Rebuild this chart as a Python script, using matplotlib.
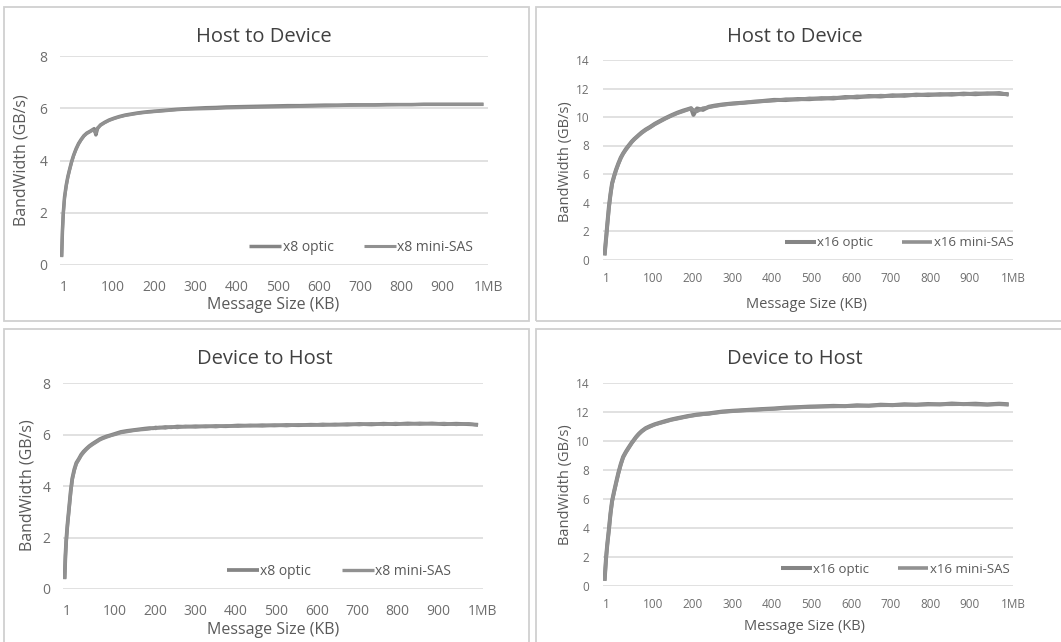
import matplotlib.pyplot as plt
from matplotlib.patches import Rectangle

kb = [1, 3, 5, 8, 12, 16, 20, 25, 30, 36,
      42, 48, 55, 62, 70, 76, 80, 84, 88, 95,
      105, 116, 128, 140, 155, 170, 185, 200, 212, 220,
      226, 235, 250, 265, 280, 300, 325, 350, 375, 400,
      430, 460, 490, 520, 550, 580, 610, 640, 670, 700,
      730, 760, 790, 820, 850, 880, 910, 940, 970, 1000,
      1024]

# Host to Device, x8
h2d_x8_optic = [0.32, 1.35, 2.00, 2.60, 3.05, 3.38, 3.64, 3.95, 4.20, 4.45,
                4.65, 4.80, 4.95, 5.05, 5.12, 5.18, 5.22, 4.98, 5.22, 5.36,
                5.46, 5.55, 5.62, 5.68, 5.74, 5.78, 5.82, 5.85, 5.87, 5.88,
                5.89, 5.90, 5.92, 5.94, 5.96, 5.98, 6.00, 6.02, 6.03, 6.05,
                6.06, 6.07, 6.08, 6.09, 6.10, 6.10, 6.11, 6.12, 6.12, 6.13,
                6.13, 6.13, 6.14, 6.14, 6.14, 6.15, 6.15, 6.15, 6.15, 6.15,
                6.15]
h2d_x8_sas = [0.30, 1.30, 1.95, 2.55, 3.00, 3.35, 3.62, 3.92, 4.18, 4.42,
              4.62, 4.78, 4.93, 5.03, 5.10, 5.16, 5.12, 5.05, 5.25, 5.34,
              5.44, 5.53, 5.60, 5.66, 5.72, 5.76, 5.80, 5.83, 5.85, 5.86,
              5.87, 5.88, 5.90, 5.92, 5.94, 5.96, 5.97, 5.98, 5.99, 6.01,
              6.02, 6.03, 6.04, 6.05, 6.06, 6.07, 6.08, 6.09, 6.10, 6.11,
              6.12, 6.12, 6.13, 6.14, 6.14, 6.15, 6.15, 6.15, 6.15, 6.15,
              6.15]

# Host to Device, x16
h2d_x16_optic = [0.30, 0.95, 1.55, 2.50, 3.70, 4.60, 5.35, 5.85, 6.30, 6.75,
                 7.15, 7.45, 7.75, 8.00, 8.28, 8.45, 8.55, 8.65, 8.75, 8.92,
                 9.12, 9.30, 9.52, 9.70, 9.92, 10.12, 10.30, 10.45, 10.55, 10.62,
                 10.15, 10.60, 10.50, 10.72, 10.80, 10.88, 10.95, 11.00, 11.05, 11.12,
                 11.20, 11.19, 11.26, 11.25, 11.32, 11.30, 11.40, 11.38, 11.47, 11.44,
                 11.52, 11.49, 11.57, 11.54, 11.60, 11.57, 11.64, 11.60, 11.66, 11.63,
                 11.60]
h2d_x16_sas = [0.28, 0.90, 1.50, 2.45, 3.62, 4.55, 5.30, 5.80, 6.25, 6.70,
               7.10, 7.42, 7.70, 7.96, 8.24, 8.42, 8.52, 8.62, 8.72, 8.88,
               9.08, 9.26, 9.48, 9.66, 9.88, 10.08, 10.26, 10.40, 10.52, 10.58,
               10.50, 10.40, 10.62, 10.68, 10.76, 10.85, 10.93, 10.98, 11.08, 11.10,
               11.15, 11.25, 11.22, 11.31, 11.27, 11.36, 11.34, 11.45, 11.42, 11.50,
               11.46, 11.55, 11.52, 11.60, 11.55, 11.63, 11.58, 11.67, 11.62, 11.70,
               11.55]

# Device to Host, x8
d2h_x8_optic = [0.40, 1.30, 1.90, 2.50, 3.15, 3.80, 4.30, 4.65, 4.90, 5.05,
                5.22, 5.34, 5.45, 5.55, 5.64, 5.70, 5.74, 5.78, 5.82, 5.87,
                5.93, 5.98, 6.04, 6.10, 6.14, 6.17, 6.20, 6.23, 6.25, 6.24,
                6.27, 6.26, 6.29, 6.28, 6.31, 6.30, 6.32, 6.31, 6.33, 6.32,
                6.35, 6.34, 6.36, 6.35, 6.37, 6.36, 6.38, 6.37, 6.39, 6.38,
                6.41, 6.39, 6.42, 6.40, 6.43, 6.41, 6.43, 6.40, 6.42, 6.40,
                6.38]
d2h_x8_sas = [0.38, 1.25, 1.85, 2.45, 3.10, 3.75, 4.25, 4.60, 4.86, 5.02,
              5.18, 5.30, 5.42, 5.52, 5.61, 5.67, 5.71, 5.75, 5.79, 5.84,
              5.90, 5.96, 6.01, 6.07, 6.11, 6.15, 6.18, 6.20, 6.22, 6.26,
              6.23, 6.28, 6.25, 6.30, 6.27, 6.32, 6.29, 6.33, 6.30, 6.34,
              6.32, 6.36, 6.33, 6.37, 6.34, 6.38, 6.36, 6.40, 6.37, 6.41,
              6.38, 6.42, 6.39, 6.43, 6.40, 6.44, 6.41, 6.43, 6.39, 6.42,
              6.36]

# Device to Host, x16
d2h_x16_optic = [0.35, 1.20, 2.00, 2.90, 3.90, 5.00, 5.85, 6.50, 7.10, 7.80,
                 8.40, 8.90, 9.25, 9.55, 9.88, 10.10, 10.25, 10.38, 10.50, 10.68,
                 10.88, 11.02, 11.15, 11.25, 11.37, 11.48, 11.57, 11.65, 11.72, 11.75,
                 11.78, 11.82, 11.86, 11.90, 11.96, 12.03, 12.08, 12.12, 12.16, 12.20,
                 12.24, 12.30, 12.33, 12.37, 12.39, 12.42, 12.40, 12.46, 12.43, 12.50,
                 12.47, 12.53, 12.50, 12.55, 12.52, 12.58, 12.54, 12.57, 12.52, 12.57,
                 12.53]
d2h_x16_sas = [0.33, 1.15, 1.95, 2.85, 3.85, 4.95, 5.80, 6.45, 7.05, 7.75,
               8.35, 8.85, 9.20, 9.50, 9.84, 10.06, 10.22, 10.34, 10.46, 10.64,
               10.84, 10.98, 11.12, 11.22, 11.33, 11.45, 11.53, 11.62, 11.68, 11.73,
               11.75, 11.79, 11.84, 11.87, 11.93, 12.00, 12.05, 12.10, 12.13, 12.17,
               12.21, 12.27, 12.31, 12.34, 12.37, 12.38, 12.40, 12.42, 12.44, 12.46,
               12.47, 12.49, 12.50, 12.51, 12.53, 12.53, 12.54, 12.51, 12.50, 12.53,
               12.50]

xtick_labels = ["1", "100", "200", "300", "400", "500", "600", "700", "800", "900", "1MB"]
xtick_at = [6, 125, 225, 325, 425, 525, 625, 725, 825, 925, 1035]

plt.rcParams['font.family'] = ['Open Sans', 'DejaVu Sans']

W, H = 1061, 642
fig = plt.figure(figsize=(W / 100, H / 100), dpi=100)
fig.patch.set_facecolor('white')

LINE = '#858585'
LINE2 = '#919191'
GRID = '#d9d9d9'


def fx(x):
    return x / W


def fy(y):
    return 1 - y / H


def panel(box, axbox, title, ymax, optic, sas, names, txt, fs):
    # box: panel border (x0, y0, x1, y1) px ; axbox: plot area (x0, y0, x1, y1) px
    x0, y0, x1, y1 = box
    fig.add_artist(Rectangle((fx(x0), fy(y1)), (x1 - x0) / W, (y1 - y0) / H,
                             transform=fig.transFigure, fill=False,
                             ec='#d0d0d0', lw=1.3))
    a0, b0, a1, b1 = axbox
    ax = fig.add_axes([fx(a0), fy(b1), (a1 - a0) / W, (b1 - b0) / H])
    l1, = ax.plot(kb, optic, color=LINE, lw=fs['lw'], solid_capstyle='butt')
    l2, = ax.plot(kb, sas, color=LINE2, lw=fs['lw'] - 0.3, solid_capstyle='butt')
    ax.set_xlim(-3, 1025)
    ax.set_ylim(0, ymax)
    ax.set_yticks(range(0, ymax + 1, 2))
    ax.set_xticks(xtick_at)
    ax.set_xticklabels(xtick_labels)
    ax.grid(axis='y', color=GRID, lw=1.1)
    ax.set_axisbelow(True)
    for s in ax.spines.values():
        s.set_visible(False)
    ax.tick_params(length=0, colors='#6e6e6e', labelsize=fs['tick'],
                   pad=fs['pad'])
    ax.tick_params(axis='x', pad=fs['xpad'])
    ax.legend([l1, l2], names, ncol=2, frameon=False, loc='center right',
              bbox_to_anchor=fs['leg'], handlelength=2.3, handletextpad=0.1,
              columnspacing=2.2, fontsize=fs['legfs'], labelcolor='#595959')

    tx, ty, xlx, xly, ylx, yly = txt
    fig.text(fx(tx), fy(ty), title, ha='center', va='center',
             fontsize=14.5, color='#404040')
    fig.text(fx(xlx), fy(xly), "Message Size (KB)", ha='center', va='center',
             fontsize=fs['lab'], color='#595959')
    fig.text(fx(ylx), fy(yly), "BandWidth (GB/s)", ha='center', va='center',
             rotation=90, fontsize=fs['lab'], color='#595959')
    return ax


left_fs = dict(tick=10, pad=9, xpad=11, lab=11.5, legfs=10, lw=2.5)
right_fs = dict(tick=8.5, pad=10, xpad=9, lab=10.5, legfs=9.5, lw=2.9)

panel((4, 7, 529, 321), (60, 56, 488, 265), "Host to Device", 8,
      h2d_x8_optic, h2d_x8_sas, ["x8 optic", "x8 mini-SAS"],
      (264, 37, 273, 305, 22, 160), dict(left_fs, leg=(0.995, 0.086)))

panel((536, 7, 1070, 321), (603, 60, 1013, 259.5), "Host to Device", 14,
      h2d_x16_optic, h2d_x16_sas, ["x16 optic", "x16 mini-SAS"],
      (795, 37, 807, 305, 565, 162), dict(right_fs, leg=(1.03, 0.084)))

panel((4, 329, 529, 660), (63, 383, 482.5, 589), "Device to Host", 8,
      d2h_x8_optic, d2h_x8_sas, ["x8 optic", "x8 mini-SAS"],
      (265, 359, 273, 630, 27, 485), dict(left_fs, leg=(0.955, 0.084), lw=2.7))

panel((536, 329, 1070, 660), (603, 383, 1013, 585.7), "Device to Host", 14,
      d2h_x16_optic, d2h_x16_sas, ["x16 optic", "x16 mini-SAS"],
      (795, 359, 804, 627, 565, 485), dict(right_fs, leg=(1.02, 0.082)))

fig.savefig("out.png", dpi=100)
